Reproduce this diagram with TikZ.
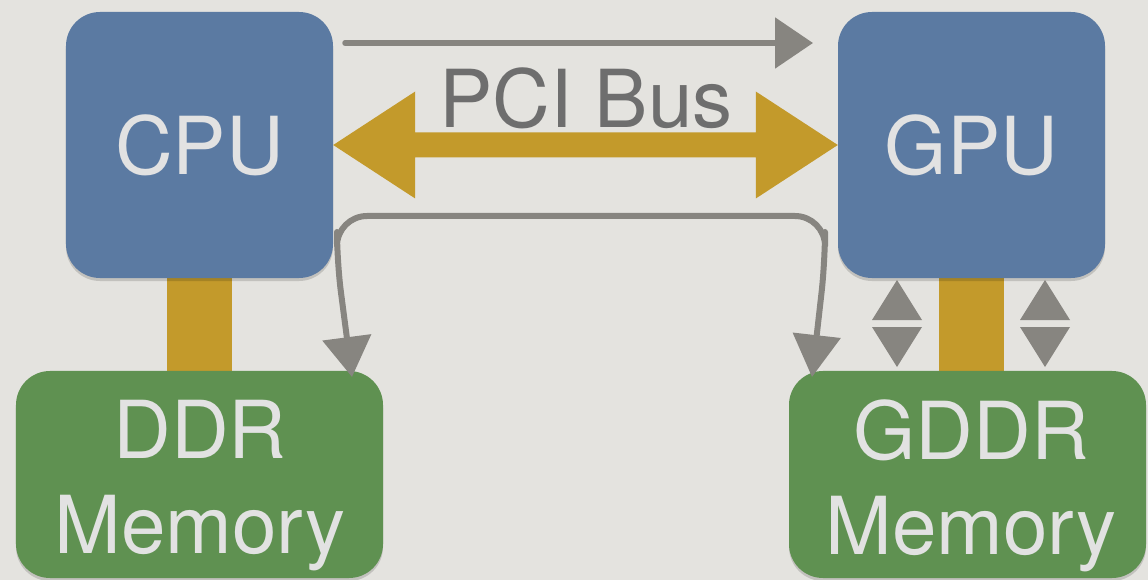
\documentclass[tikz,border=0pt]{standalone}
\usepackage{fontspec}
\setmainfont{TeX Gyre Heros}
\usetikzlibrary{arrows.meta,calc,shadows}
\definecolor{bgc}{HTML}{E4E3DF}
\definecolor{procblue}{HTML}{5B7AA2}
\definecolor{memgreen}{HTML}{5F9151}
\definecolor{goldc}{HTML}{C39A2B}
\definecolor{sketchc}{HTML}{878580}
\definecolor{boxtext}{HTML}{E2E2E2}
\definecolor{pcitext}{HTML}{6E6E6E}
\newcommand\bigtxt{\fontsize{80bp}{95bp}\selectfont}
\pgfdeclarelayer{backlayer}
\pgfsetlayers{backlayer,main}
\begin{document}
\begin{tikzpicture}[x=1bp,y=-1bp,
  boxbase/.style={rounded corners=34bp, inner sep=0pt, draw=none,
    drop shadow={shadow xshift=0bp, shadow yshift=-3bp, opacity=0.15, fill=black}},
  procbox/.style={boxbase, fill=procblue, minimum width=267bp, minimum height=266bp,
    text=boxtext, font=\bigtxt},
  membox/.style={boxbase, fill=memgreen, minimum height=207bp},
  memtext/.style={text=boxtext, font=\bigtxt, align=center, inner sep=0pt},
  goldbar/.style={draw=goldc, line width=65bp},
  sketch/.style={draw=sketchc, line width=6bp, line cap=round, line join=round},
  tri/.style={fill=sketchc}]
\useasboundingbox (0,0) rectangle (1148,580);

% boxes
\node[procbox] (cpu) at (199.5,145) {CPU};
\node[procbox] (gpu) at (971.5,145) {GPU};
\node[membox, minimum width=367bp] (ddr) at (199.5,474.5) {};
\node[membox, minimum width=357bp] (gddr) at (967.5,474.5) {};
\node[memtext] (ddrlabel) at (200,485.5) {DDR\\Memory};
\node[memtext] (gddrlabel) at (971,485.5) {GDDR\\Memory};

% background and memory buses, behind the boxes
\begin{pgfonlayer}{backlayer}
\fill[bgc] (0,0) rectangle (1148,580);
\draw[goldbar] (cpu.south) -- (cpu.south |- ddr.north);
\draw[goldbar] (gpu.south) -- (gpu.south |- gddr.north);
\end{pgfonlayer}

% PCI bus double arrow
\fill[goldc] (cpu.east) -- ++(82,-53.5) -- ++(0,41)
  -- ($(gpu.west)+(-82,-12.5)$) -- ++(0,-41) -- (gpu.west)
  -- ++(-82,53.5) -- ++(0,-41) -- ($(cpu.east)+(82,12.5)$)
  -- ++(0,41) -- cycle;
\node[anchor=base, text=pcitext, font=\bigtxt, inner sep=0pt] (pci) at (586,128) {PCI Bus};

% sketch arrows
\coordinate (topa) at (345,43);
\coordinate (topb) at (813,43);
\draw[sketch, line width=5.5bp, -{Triangle[length=38bp,width=50bp]}] (topa) -- (topb);

\coordinate (ddrin) at (352,377);
\coordinate (gddrin) at (812,377);
\draw[sketch, rounded corners=30bp,
  {Triangle[length=40bp,width=48bp]}-{Triangle[length=42bp,width=47bp]}]
  (ddrin) -- (337,262) -- (337,216) -- (825,216) -- (825,262) -- (gddrin);

% small double-headed markers beside the GDDR bus
\fill[tri] (897,280) -- (922,320) -- (872,320) -- cycle;
\fill[tri] (872,327) -- (922,327) -- (897,367) -- cycle;
\fill[tri] (1045,280) -- (1070,320) -- (1020,320) -- cycle;
\fill[tri] (1020,327) -- (1070,327) -- (1045,367) -- cycle;
\end{tikzpicture}
\end{document}
